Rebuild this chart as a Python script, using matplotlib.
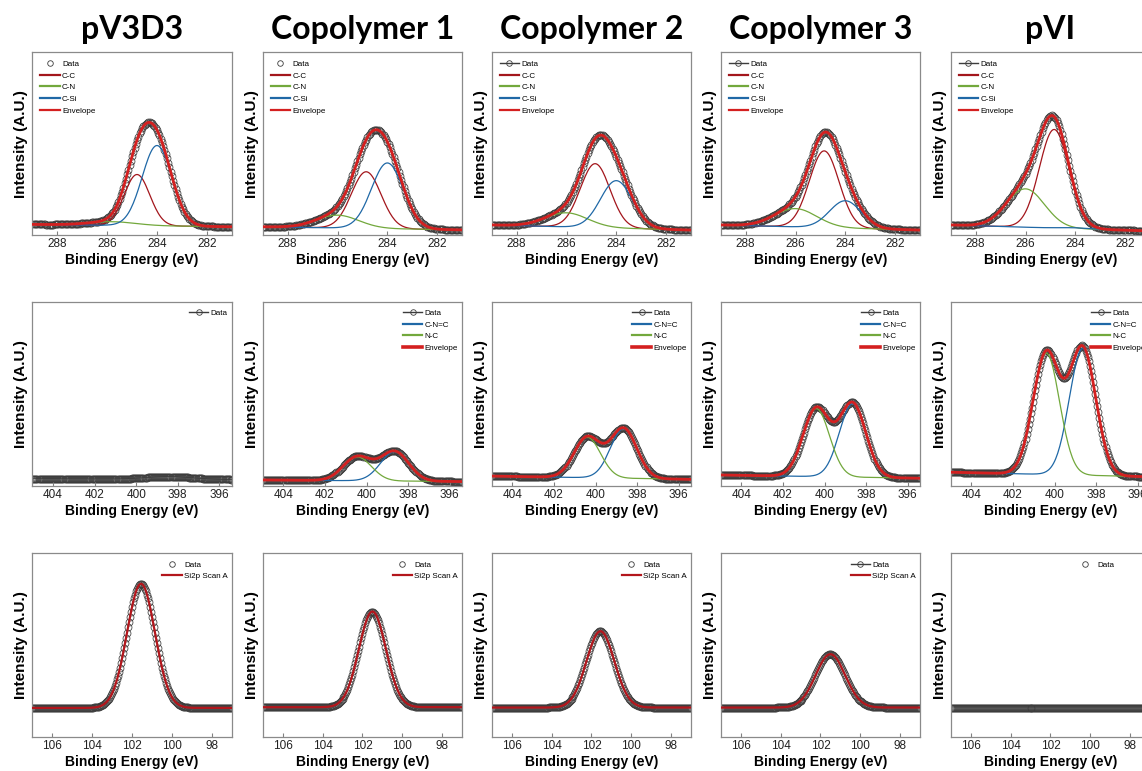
import numpy as np
import matplotlib.pyplot as plt
from matplotlib.lines import Line2D

W, H = 1142, 771

titles = ['pV3D3', 'Copolymer 1', 'Copolymer 2', 'Copolymer 3', 'pVI']

# ---- C 1s (top row): fitted peaks, height above background in axis units ----
c1s_range = (289, 281)
c1s_ticks = [288, 286, 284, 282]
cc_pos = [284.8, 284.85, 284.85, 284.85, 284.85]
cc_amp = [0.28, 0.31, 0.35, 0.42, 0.54]
cc_fwhm = [1.2, 1.4, 1.4, 1.4, 1.4]
cn_pos = [285.8, 286.0, 286.0, 286.0, 286.0]
cn_amp = [0.02, 0.07, 0.077, 0.10, 0.21]
cn_fwhm = [2.2, 2.0, 2.0, 2.0, 1.8]
csi_pos = [284.0, 284.0, 284.0, 284.0, 284.0]
csi_amp = [0.44, 0.36, 0.26, 0.15, 0.005]
csi_fwhm = [1.4, 1.5, 1.5, 1.5, 1.5]
c1s_bg_left = [0.058, 0.045, 0.055, 0.055, 0.055]
c1s_bg_right = [0.045, 0.028, 0.027, 0.027, 0.022]
c1s_data_line = [False, False, True, True, True]

# ---- N 1s (middle row) ----
n1s_range = (405, 395.4)
n1s_ticks = [404, 402, 400, 398, 396]
cnc_pos = [398.4, 398.65, 398.65, 398.65, 398.65]
cnc_amp = [0.015, 0.16, 0.27, 0.40, 0.69]
cnc_fwhm = [2.5, 1.6, 1.5, 1.5, 1.5]
nc_pos = [400.4, 400.45, 400.4, 400.4, 400.4]
nc_amp = [0.0, 0.13, 0.22, 0.37, 0.66]
nc_fwhm = [1.6, 1.6, 1.5, 1.5, 1.5]
n1s_bg_left = [0.04, 0.033, 0.054, 0.06, 0.075]
n1s_bg_right = [0.035, 0.024, 0.036, 0.042, 0.05]
n1s_fitted = [False, True, True, True, True]

# ---- Si 2p (bottom row) ----
si2p_range = (107, 97)
si2p_ticks = [106, 104, 102, 100, 98]
si_pos = [101.55, 101.5, 101.55, 101.5, 101.5]
si_amp = [0.675, 0.52, 0.415, 0.29, 0.0]
si_fwhm = [1.65, 1.6, 1.65, 1.75, 1.6]
si_bg = [0.158, 0.162, 0.16, 0.16, 0.16]
si_fitted = [True, True, True, True, False]
si_data_line = [False, False, False, True, False]
si_legend_inset = [4, 4, 4, 4, 36]  # px from right edge

step = 0.05  # instrument step (eV)

# colours
c_cc = '#a3161c'
c_cn = '#72a83c'
c_si = '#1f68a6'
c_env = '#d42020'
c_fit = '#b3161c'
c_dat = '#3c3c3c'

col_left = [32.3, 262.7, 491.7, 720.7, 950.7]
ax_w = 199.5
row_top = [52.3, 302.3, 553.0]
row_bot = [235.0, 486.0, 737.0]

fnt = 'Liberation Sans'


def peak(x, x0, amp, fwhm):
    return amp * np.exp(-4 * np.log(2) * (x - x0) ** 2 / fwhm ** 2)


def background(x, lo, hi, left, right):
    return right + (left - right) * (x - lo) / (hi - lo)


fig = plt.figure(figsize=(W / 100, H / 100), dpi=100)


def make_axes(r, c, xr, ticks):
    l = col_left[c] / W
    b = 1 - row_bot[r] / H
    ax = fig.add_axes([l, b, ax_w / W, (row_bot[r] - row_top[r]) / H])
    ax.set_xlim(xr)
    ax.set_ylim(0, 1)
    ax.set_yticks([])
    ax.set_xticks(ticks)
    ax.tick_params(axis='x', direction='in', length=3, color='#808080', pad=2,
                   labelsize=8.5, labelcolor='#222222')
    for lab in ax.get_xticklabels():
        lab.set_family(['Liberation Sans Narrow', fnt])
    for s in ax.spines.values():
        s.set_color('#8a8a8a')
        s.set_linewidth(0.9)
    ax.set_xlabel('Binding Energy (eV)', fontsize=10, fontweight='bold',
                  family=fnt, labelpad=2)
    ax.set_ylabel('Intensity (A.U.)', fontsize=11, fontweight='bold',
                  family=fnt, labelpad=3)
    return ax


def plot_data(ax, x, y, with_line):
    ax.plot(x, y, ls='-' if with_line else 'none', lw=0.6, color=c_dat,
            marker='o', ms=5, mfc='none', mec=c_dat, mew=0.55, zorder=1)
    return Line2D([], [], ls='-' if with_line else 'none', lw=1.0, color=c_dat,
                  marker='o', ms=4, mfc='none', mec=c_dat, mew=0.6)


def add_legend(ax, handles, labels, loc, anchor, widths):
    leg = ax.legend(handles, labels, loc=loc, bbox_to_anchor=anchor,
                    frameon=False, handlelength=2.4,
                    handletextpad=0.3, labelspacing=0.5, borderpad=0,
                    borderaxespad=0, prop={'family': fnt, 'size': 5.8})
    for h, w in zip(leg.legend_handles, widths):
        if w:
            h.set_linewidth(w)
    return leg


# ---------- top row: C 1s ----------
lo, hi = c1s_range[1], c1s_range[0]
x = np.arange(lo, hi + step / 2, step)
for c in range(5):
    ax = make_axes(0, c, c1s_range, c1s_ticks)
    bg = background(x, lo, hi, c1s_bg_left[c], c1s_bg_right[c])
    cc = peak(x, cc_pos[c], cc_amp[c], cc_fwhm[c])
    cn = peak(x, cn_pos[c], cn_amp[c], cn_fwhm[c])
    cs = peak(x, csi_pos[c], csi_amp[c], csi_fwhm[c])
    env = bg + cc + cn + cs
    hd = plot_data(ax, x, env, c1s_data_line[c])
    l1, = ax.plot(x, bg + cc, color=c_cc, lw=0.9, zorder=2)
    l2, = ax.plot(x, bg + cn, color=c_cn, lw=0.9, zorder=2)
    l3, = ax.plot(x, bg + cs, color=c_si, lw=0.9, zorder=2)
    l4, = ax.plot(x, env, color=c_env, lw=2.0, zorder=3)
    add_legend(ax, [hd, l1, l2, l3, l4], ['Data', 'C-C', 'C-N', 'C-Si', 'Envelope'],
               'upper left', (8 / ax_w, 1 - 8 / 183), [None, 1.6, 1.6, 1.6, 1.6])
    fig.text((col_left[c] + ax_w / 2) / W, 1 - 30 / H, titles[c], ha='center',
             va='center', fontsize=23, fontweight='bold', family='Lato')

# ---------- middle row: N 1s ----------
lo, hi = n1s_range[1], n1s_range[0]
x = np.arange(lo, hi + step / 2, step)
for c in range(5):
    ax = make_axes(1, c, n1s_range, n1s_ticks)
    bg = background(x, lo, hi, n1s_bg_left[c], n1s_bg_right[c])
    cnc = peak(x, cnc_pos[c], cnc_amp[c], cnc_fwhm[c])
    nc = peak(x, nc_pos[c], nc_amp[c], nc_fwhm[c])
    env = bg + cnc + nc
    hd = plot_data(ax, x, env, True)
    if n1s_fitted[c]:
        l1, = ax.plot(x, bg + cnc, color=c_si, lw=0.9, zorder=2)
        l2, = ax.plot(x, bg + nc, color=c_cn, lw=0.9, zorder=2)
        l3, = ax.plot(x, env, color=c_env, lw=2.0, zorder=3)
        add_legend(ax, [hd, l1, l2, l3], ['Data', 'C-N=C', 'N-C', 'Envelope'],
                   'upper right', (1 - 4 / ax_w, 1 - 7 / 184), [None, 1.6, 1.6, 2.6])
    else:
        add_legend(ax, [hd], ['Data'], 'upper right', (1 - 4 / ax_w, 1 - 7 / 184), [None])

# ---------- bottom row: Si 2p ----------
lo, hi = si2p_range[1], si2p_range[0]
x = np.arange(lo, hi + step / 2, step)
for c in range(5):
    ax = make_axes(2, c, si2p_range, si2p_ticks)
    fit = si_bg[c] + peak(x, si_pos[c], si_amp[c], si_fwhm[c])
    hd = plot_data(ax, x, fit, si_data_line[c])
    anchor = (1 - si_legend_inset[c] / ax_w, 1 - 8 / 184)
    if si_fitted[c]:
        l1, = ax.plot(x, fit, color=c_fit, lw=1.6, zorder=3)
        add_legend(ax, [hd, l1], ['Data', 'Si2p Scan A'], 'upper right',
                   anchor, [None, 1.6])
    else:
        add_legend(ax, [hd], ['Data'], 'upper right', anchor, [None])

fig.savefig('out.png', dpi=100)
